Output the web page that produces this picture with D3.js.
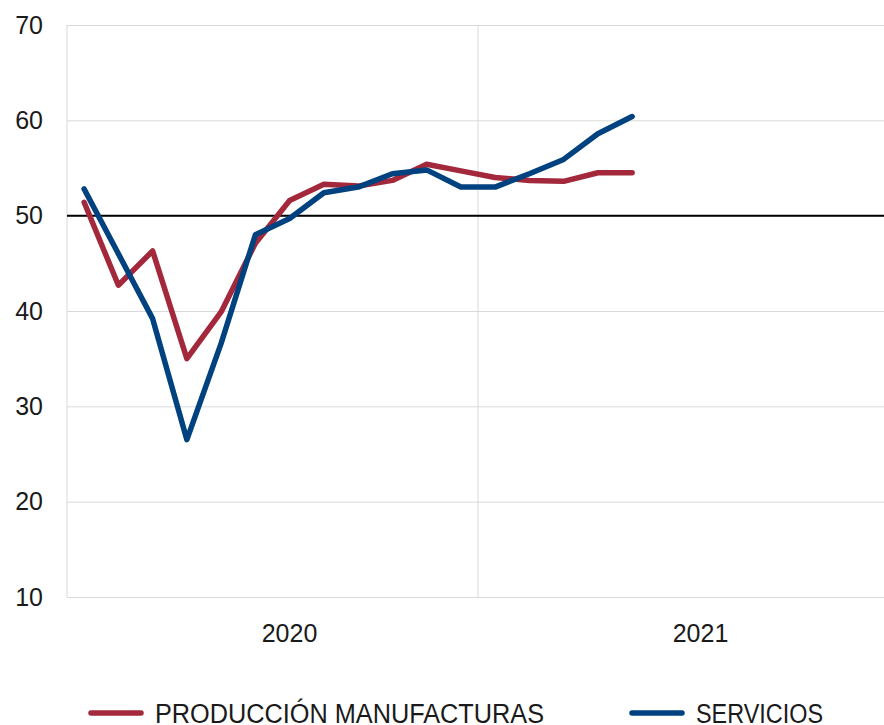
<!DOCTYPE html>
<html>
<head>
<meta charset="utf-8">
<script src="https://cdn.jsdelivr.net/npm/d3@7"></script>
<style>
  html, body { margin: 0; padding: 0; background: #fff; }
  svg { display: block; font-family: "Liberation Sans", Arial, sans-serif; }
</style>
</head>
<body>
<svg id="chart" width="884" height="725"></svg>
<script>
const months = ["2020-01","2020-02","2020-03","2020-04","2020-05","2020-06","2020-07","2020-08","2020-09","2020-10","2020-11","2020-12",
                "2021-01","2021-02","2021-03","2021-04","2021-05","2021-06","2021-07","2021-08","2021-09","2021-10","2021-11","2021-12"];
const years = ["2020", "2021"];
const manufacturas = [51.4, 42.7, 46.3, 35.0, 39.9, 47.1, 51.6, 53.3, 53.1, 53.7, 55.4, 54.7, 54.0, 53.7, 53.6, 54.5, 54.5];
const servicios    = [52.8, 46.0, 39.2, 26.5, 36.6, 48.0, 49.7, 52.4, 53.0, 54.4, 54.8, 53.0, 53.0, 54.4, 55.9, 58.6, 60.4];
const yTicks = [10, 20, 30, 40, 50, 60, 70];
const seriesNames = ["PRODUCCIÓN MANUFACTURAS", "SERVICIOS"];
const colors = ["#A3283B", "#00427F"];

const svg = d3.select("#chart");
const mLeft = 67, mRight = 889, mTop = 25, mBottom = 597;

const x = d3.scaleBand().domain(months).range([mLeft, mRight]).padding(0);
const xYear = d3.scaleBand().domain(years).range([mLeft, mRight]).padding(0);
const y = d3.scaleLinear().domain([10, 70]).range([mBottom, mTop]);

// gridlines + y labels
const yAxis = d3.axisLeft(y).tickValues(yTicks).tickSize(-(mRight - mLeft)).tickPadding(24).tickFormat(d3.format("d"));
const gy = svg.append("g").attr("transform", `translate(${mLeft},0)`).call(yAxis);
gy.select(".domain").remove();
gy.selectAll(".tick line").attr("stroke", "#d9d9d9").attr("stroke-width", 1);
gy.selectAll(".tick text").attr("font-size", 25).attr("fill", "#1a1a1a")
  .attr("font-family", "'Liberation Sans', Arial, sans-serif");

// left axis line and year divider
svg.append("line").attr("x1", mLeft).attr("x2", mLeft).attr("y1", mTop).attr("y2", mBottom)
  .attr("stroke", "#d9d9d9").attr("stroke-width", 1);
svg.append("line").attr("x1", xYear("2021")).attr("x2", xYear("2021")).attr("y1", mTop).attr("y2", mBottom)
  .attr("stroke", "#d9d9d9").attr("stroke-width", 1);

// year labels
svg.selectAll(".year").data(years).enter().append("text")
  .attr("x", d => xYear(d) + xYear.bandwidth() / 2 + 17)
  .attr("y", 642)
  .attr("text-anchor", "middle")
  .attr("font-size", 25)
  .attr("fill", "#1a1a1a")
  .text(d => d);

// reference line at 50
svg.append("line").attr("x1", mLeft).attr("x2", mRight).attr("y1", y(50)).attr("y2", y(50))
  .attr("stroke", "#000").attr("stroke-width", 2);

const line = d3.line()
  .x((d, i) => x(months[i]) + x.bandwidth() / 2)
  .y(d => y(d));

[manufacturas, servicios].forEach((s, k) => {
  svg.append("path").datum(s)
    .attr("d", line)
    .attr("fill", "none")
    .attr("stroke", colors[k])
    .attr("stroke-width", 5.5)
    .attr("stroke-linejoin", "round")
    .attr("stroke-linecap", "round");
});

// legend
const legendX = [88, 629];
const legendLen = [389, 127];
seriesNames.forEach((name, k) => {
  const g = svg.append("g");
  g.append("line").attr("x1", legendX[k] + 3).attr("x2", legendX[k] + 53)
    .attr("y1", 713).attr("y2", 713)
    .attr("stroke", colors[k]).attr("stroke-width", 5.5).attr("stroke-linecap", "round");
  g.append("text").attr("x", legendX[k] + 67).attr("y", 722.5)
    .attr("font-size", 27).attr("fill", "#1a1a1a")
    .attr("textLength", legendLen[k]).attr("lengthAdjust", "spacingAndGlyphs")
    .text(name);
});
</script>
</body>
</html>
